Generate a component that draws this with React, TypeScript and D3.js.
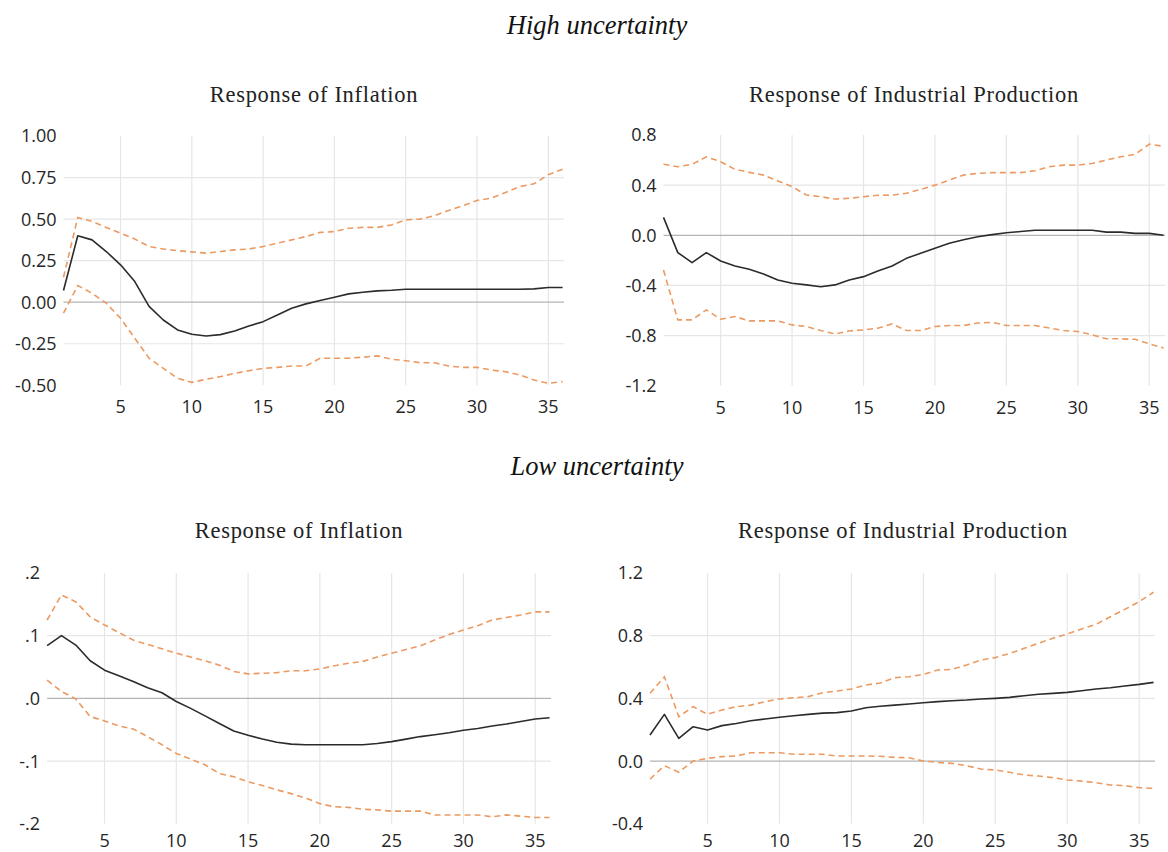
import React from "react";
import * as d3 from "d3";

// Forecast horizon (months)
const periods: number[] = d3.range(1, 37);

// ---- High uncertainty regime ----
const hiInflMean = [0.07, 0.40, 0.375, 0.305, 0.225, 0.124, -0.025, -0.107, -0.167, -0.193, -0.203, -0.195, -0.173, -0.143, -0.117, -0.077, -0.036, -0.01, 0.01, 0.03, 0.05, 0.06, 0.068, 0.072, 0.078, 0.078, 0.078, 0.078, 0.078, 0.078, 0.078, 0.078, 0.078, 0.08, 0.088, 0.088];
const hiInflUpper = [0.15, 0.51, 0.486, 0.45, 0.415, 0.38, 0.335, 0.32, 0.31, 0.303, 0.295, 0.305, 0.315, 0.32, 0.335, 0.355, 0.375, 0.395, 0.42, 0.425, 0.445, 0.45, 0.45, 0.465, 0.495, 0.5, 0.52, 0.552, 0.58, 0.612, 0.626, 0.66, 0.696, 0.712, 0.767, 0.80];
const hiInflLower = [-0.066, 0.10, 0.054, -0.006, -0.097, -0.217, -0.337, -0.398, -0.458, -0.482, -0.464, -0.448, -0.428, -0.412, -0.398, -0.392, -0.384, -0.384, -0.337, -0.337, -0.337, -0.331, -0.323, -0.343, -0.352, -0.364, -0.364, -0.384, -0.392, -0.392, -0.408, -0.418, -0.438, -0.468, -0.488, -0.478];

const hiIpMean = [0.143, -0.138, -0.218, -0.138, -0.205, -0.245, -0.271, -0.308, -0.356, -0.383, -0.396, -0.41, -0.396, -0.356, -0.33, -0.285, -0.245, -0.184, -0.144, -0.104, -0.064, -0.035, -0.012, 0.005, 0.02, 0.03, 0.04, 0.04, 0.04, 0.04, 0.04, 0.025, 0.025, 0.015, 0.015, 0.0];
const hiIpUpper = [0.566, 0.547, 0.566, 0.626, 0.587, 0.526, 0.502, 0.48, 0.433, 0.387, 0.321, 0.308, 0.289, 0.295, 0.308, 0.319, 0.321, 0.335, 0.366, 0.40, 0.44, 0.48, 0.494, 0.5, 0.5, 0.5, 0.515, 0.547, 0.56, 0.56, 0.573, 0.6, 0.626, 0.645, 0.727, 0.71];
const hiIpLower = [-0.277, -0.675, -0.675, -0.595, -0.67, -0.648, -0.683, -0.683, -0.683, -0.715, -0.728, -0.76, -0.787, -0.763, -0.755, -0.741, -0.707, -0.76, -0.76, -0.728, -0.72, -0.72, -0.70, -0.695, -0.72, -0.72, -0.72, -0.74, -0.76, -0.768, -0.794, -0.826, -0.826, -0.83, -0.866, -0.90];

// ---- Low uncertainty regime ----
const loInflMean = [0.084, 0.100, 0.085, 0.060, 0.045, 0.036, 0.027, 0.017, 0.009, -0.005, -0.016, -0.028, -0.040, -0.052, -0.059, -0.065, -0.070, -0.073, -0.074, -0.074, -0.074, -0.074, -0.074, -0.072, -0.069, -0.065, -0.061, -0.058, -0.055, -0.051, -0.048, -0.044, -0.041, -0.037, -0.033, -0.031];
const loInflUpper = [0.125, 0.165, 0.154, 0.130, 0.117, 0.105, 0.093, 0.086, 0.079, 0.072, 0.066, 0.060, 0.053, 0.043, 0.039, 0.040, 0.041, 0.044, 0.044, 0.047, 0.052, 0.056, 0.059, 0.066, 0.072, 0.078, 0.084, 0.093, 0.102, 0.109, 0.116, 0.125, 0.129, 0.133, 0.138, 0.138];
const loInflLower = [0.029, 0.011, -0.001, -0.029, -0.036, -0.044, -0.049, -0.061, -0.074, -0.088, -0.097, -0.106, -0.120, -0.125, -0.133, -0.139, -0.146, -0.152, -0.159, -0.168, -0.173, -0.174, -0.177, -0.178, -0.180, -0.180, -0.180, -0.186, -0.186, -0.186, -0.186, -0.189, -0.186, -0.188, -0.190, -0.190];

const loIpMean = [0.166, 0.298, 0.145, 0.219, 0.198, 0.226, 0.24, 0.257, 0.268, 0.279, 0.289, 0.298, 0.306, 0.309, 0.319, 0.34, 0.35, 0.357, 0.364, 0.372, 0.379, 0.385, 0.389, 0.396, 0.40, 0.406, 0.417, 0.426, 0.432, 0.438, 0.449, 0.46, 0.468, 0.479, 0.489, 0.502];
const loIpUpper = [0.432, 0.538, 0.283, 0.347, 0.298, 0.326, 0.347, 0.357, 0.379, 0.396, 0.404, 0.411, 0.436, 0.447, 0.46, 0.485, 0.498, 0.532, 0.538, 0.553, 0.581, 0.585, 0.613, 0.645, 0.66, 0.687, 0.719, 0.751, 0.783, 0.811, 0.843, 0.872, 0.921, 0.968, 1.017, 1.077];
const loIpLower = [-0.115, -0.03, -0.072, 0.0, 0.017, 0.028, 0.032, 0.053, 0.053, 0.053, 0.043, 0.043, 0.043, 0.032, 0.032, 0.032, 0.03, 0.023, 0.021, 0.0, -0.009, -0.015, -0.03, -0.051, -0.057, -0.072, -0.089, -0.096, -0.106, -0.121, -0.128, -0.138, -0.153, -0.157, -0.17, -0.174];

// Axis ticks and labels
const xTicks = [5, 10, 15, 20, 25, 30, 35];
const hiInflTicks = [1.0, 0.75, 0.5, 0.25, 0.0, -0.25, -0.5];
const hiInflTickLabels = ["1.00", "0.75", "0.50", "0.25", "0.00", "-0.25", "-0.50"];
const hiIpTicks = [0.8, 0.4, 0.0, -0.4, -0.8, -1.2];
const hiIpTickLabels = ["0.8", "0.4", "0.0", "-0.4", "-0.8", "-1.2"];
const loInflTicks = [0.2, 0.1, 0.0, -0.1, -0.2];
const loInflTickLabels = [".2", ".1", ".0", "-.1", "-.2"];
const loIpTicks = [1.2, 0.8, 0.4, 0.0, -0.4];
const loIpTickLabels = ["1.2", "0.8", "0.4", "0.0", "-0.4"];

const sectionTitles = ["High uncertainty", "Low uncertainty"];
const panelTitles = ["Response of Inflation", "Response of Industrial Production"];

type PanelSpec = {
  title: string;
  titleX: number;
  titleY: number;
  left: number;
  right: number;
  top: number;
  bottom: number;
  xLabelGap: number;
  ticks: number[];
  tickLabels: string[];
  mean: number[];
  upper: number[];
  lower: number[];
};

const panels: PanelSpec[] = [
  { title: panelTitles[0], titleX: 314, titleY: 102, left: 63.5, right: 564, top: 136, bottom: 385.3, xLabelGap: 28,
    ticks: hiInflTicks, tickLabels: hiInflTickLabels, mean: hiInflMean, upper: hiInflUpper, lower: hiInflLower },
  { title: panelTitles[1], titleX: 914, titleY: 102, left: 663.5, right: 1165, top: 135, bottom: 385.7, xLabelGap: 28,
    ticks: hiIpTicks, tickLabels: hiIpTickLabels, mean: hiIpMean, upper: hiIpUpper, lower: hiIpLower },
  { title: panelTitles[0], titleX: 299, titleY: 538, left: 47.1, right: 551, top: 573, bottom: 823.7, xLabelGap: 23,
    ticks: loInflTicks, tickLabels: loInflTickLabels, mean: loInflMean, upper: loInflUpper, lower: loInflLower },
  { title: panelTitles[1], titleX: 903, titleY: 538, left: 650, right: 1155, top: 573, bottom: 823.7, xLabelGap: 23,
    ticks: loIpTicks, tickLabels: loIpTickLabels, mean: loIpMean, upper: loIpUpper, lower: loIpLower },
];

const ORANGE = "#ec9a62";
const tickFont = "'Open Sans', 'Noto Sans', sans-serif";
const serifFont = "'Liberation Serif', 'DejaVu Serif', serif";

function Panel({ p }: { p: PanelSpec }) {
  // x runs from period 1 at the left edge to period 36 at the right edge
  const x = d3.scaleLinear().domain([1, 36]).range([p.left, p.left + (p.right - p.left) * (35 / 35.1)]);
  const yMax = d3.max(p.ticks) as number;
  const yMin = d3.min(p.ticks) as number;
  const y = d3.scaleLinear().domain([yMin, yMax]).range([p.bottom, p.top]);
  const line = d3
    .line<number>()
    .x((_, i) => x(periods[i]))
    .y((d) => y(d));
  const innerTicks = p.ticks.filter((t) => t !== yMax && t !== yMin && t !== 0);

  return (
    <g>
      <text x={p.titleX} y={p.titleY} textAnchor="middle" fontFamily={serifFont} fontSize={22.5} letterSpacing={0.7} fill="#222">
        {p.title}
      </text>
      {xTicks.map((t) => (
        <line key={"vx" + t} x1={x(t)} x2={x(t)} y1={p.top} y2={p.bottom} stroke="#e6e6e6" strokeWidth={1.2} />
      ))}
      {innerTicks.map((t) => (
        <line key={"hy" + t} x1={p.left} x2={p.right} y1={y(t)} y2={y(t)} stroke="#e6e6e6" strokeWidth={1.2} />
      ))}
      <line x1={p.left} x2={p.right} y1={y(0)} y2={y(0)} stroke="#b4b4b4" strokeWidth={1.2} />
      {p.ticks.map((t, i) => (
        <text key={"yl" + t} x={p.left - 7} y={y(t)} dy="0.36em" textAnchor="end" fontFamily={tickFont} fontSize={18} fill="#262626">
          {p.tickLabels[i]}
        </text>
      ))}
      {xTicks.map((t) => (
        <text key={"xl" + t} x={x(t)} y={p.bottom + p.xLabelGap} textAnchor="middle" fontFamily={tickFont} fontSize={18} fill="#262626">
          {t}
        </text>
      ))}
      <path d={line(p.upper) || ""} fill="none" stroke={ORANGE} strokeWidth={1.6} strokeDasharray="6 4" />
      <path d={line(p.lower) || ""} fill="none" stroke={ORANGE} strokeWidth={1.6} strokeDasharray="6 4" />
      <path d={line(p.mean) || ""} fill="none" stroke="#2b2b2b" strokeWidth={1.6} strokeLinejoin="round" />
    </g>
  );
}

export default function App() {
  return (
    <svg width={1168} height={852} style={{ position: "absolute", left: 0, top: 0, background: "#fff" }}>
      <rect width={1168} height={852} fill="#fff" />
      <text x={597} y={34} textAnchor="middle" fontFamily={serifFont} fontStyle="italic" fontSize={26.5} fill="#111">
        {sectionTitles[0]}
      </text>
      <text x={597} y={475} textAnchor="middle" fontFamily={serifFont} fontStyle="italic" fontSize={26.5} fill="#111">
        {sectionTitles[1]}
      </text>
      {panels.map((p, i) => (
        <Panel key={i} p={p} />
      ))}
    </svg>
  );
}
